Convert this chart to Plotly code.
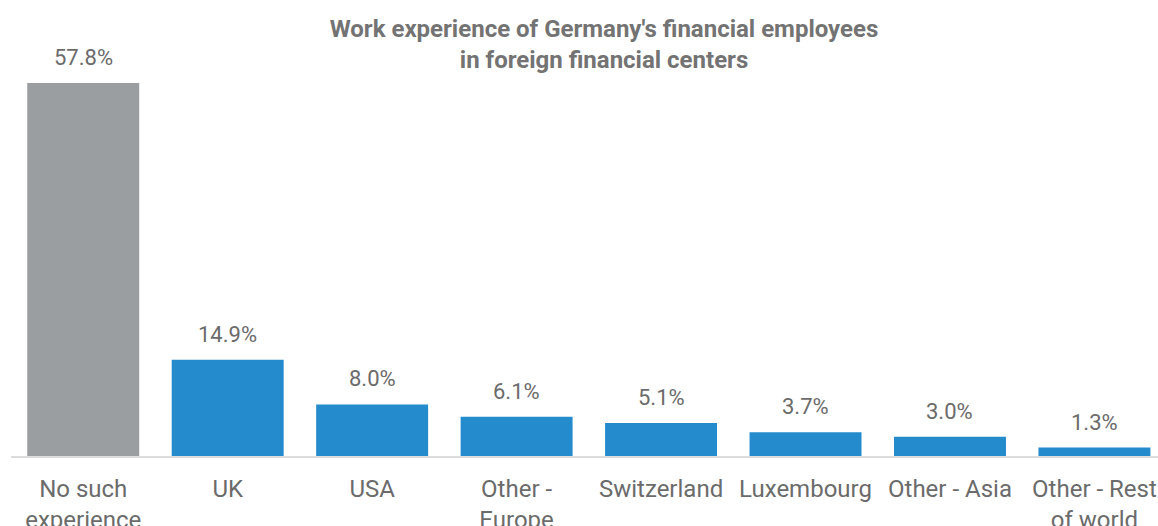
import plotly.graph_objects as go

categories = ["No such<br>experience", "UK", "USA", "Other -<br>Europe", "Switzerland",
              "Luxembourg", "Other - Asia", "Other - Rest<br>of world"]
shares = [57.8, 14.9, 8.0, 6.1, 5.1, 3.7, 3.0, 1.3]
labels = ["57.8%", "14.9%", "8.0%", "6.1%", "5.1%", "3.7%", "3.0%", "1.3%"]

GREY = "#9b9ea1"
BLUE = "#248ccc"
TEXT = "#6b6b6b"
FONT = "Roboto"

colors = [GREY] + [BLUE] * (len(shares) - 1)
xs = list(range(len(categories)))

fig = go.Figure(go.Bar(x=xs, y=shares, marker=dict(color=colors, line=dict(width=0))))

for x, v, t in zip(xs, shares, labels):
    fig.add_annotation(x=x, y=v, text=t, showarrow=False, yanchor="bottom", yshift=11,
                       font=dict(family=FONT, size=22, color=TEXT))

fig.update_layout(
    width=1158, height=526,
    margin=dict(l=11, r=0, t=60, b=70, autoexpand=False),
    paper_bgcolor="white", plot_bgcolor="white",
    bargap=0.225,
    showlegend=False,
    title=dict(text="<b>Work experience of Germany's financial employees<br>in foreign financial centers</b>",
               x=604 / 1158, xanchor="center", xref="container",
               y=1 - 37 / 526, yanchor="middle", yref="container",
               font=dict(family=FONT, size=24, color="#737373")),
)
fig.update_xaxes(tickvals=xs, ticktext=categories, range=[-0.5, 7.44],
                 showline=True, linecolor="#dcdcdc", linewidth=2,
                 showgrid=False, zeroline=False, ticks="", automargin=False,
                 ticklabelstandoff=10,
                 tickfont=dict(family=FONT, size=24, color=TEXT))
fig.update_yaxes(range=[0, 61.37], visible=False, showgrid=False, zeroline=False,
                 automargin=False)

fig.write_html("out.html")
